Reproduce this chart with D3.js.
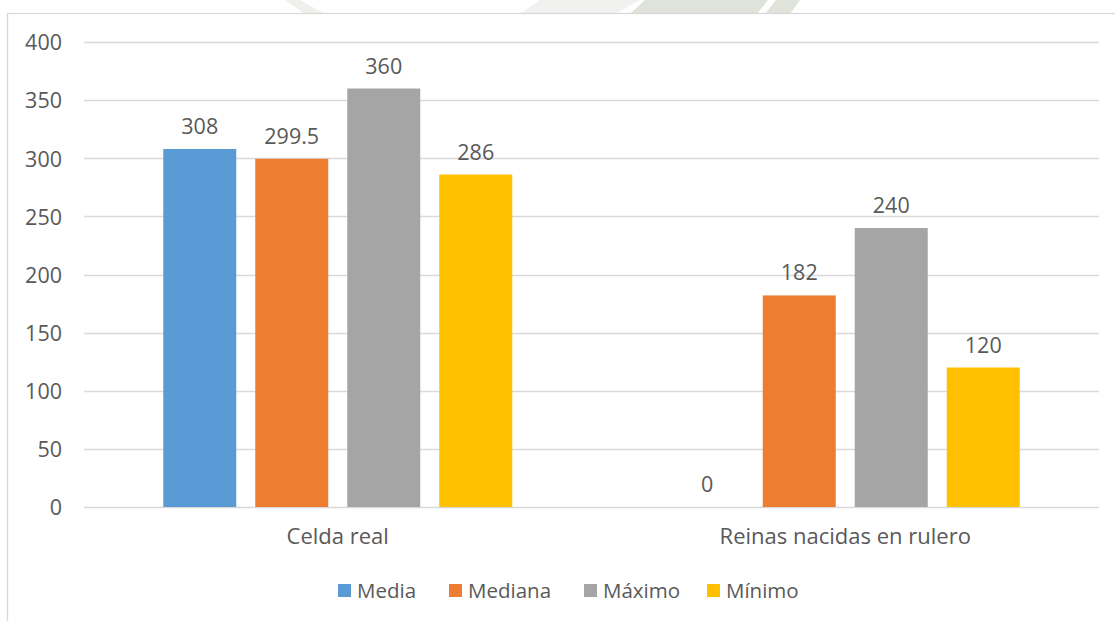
<!DOCTYPE html>
<html>
<head>
<meta charset="utf-8">
<script src="https://cdn.jsdelivr.net/npm/d3@7"></script>
<style>
  html, body { margin: 0; padding: 0; background: #fff; }
  svg { display: block; }
  text { font-family: "Open Sans", "Noto Sans", sans-serif; fill: #595959; }
</style>
</head>
<body>
<svg id="chart" width="1115" height="621"></svg>
<script>
// Chart data
const categories = ["Celda real", "Reinas nacidas en rulero"];
const seriesNames = ["Media", "Mediana", "Máximo", "Mínimo"];
const media   = [308, 0];
const mediana = [299.5, 182];
const maximo  = [360, 240];
const minimo  = [286, 120];
const yTicks  = [0, 50, 100, 150, 200, 250, 300, 350, 400];
const colors  = ["#5B9BD5", "#ED7D31", "#A5A5A5", "#FFC000"];

const seriesValues = [media, mediana, maximo, minimo];

const svg = d3.select("#chart");
const W = 1115, H = 621;

// faint backdrop shape above the chart frame
const bg = svg.append("g");
bg.append("path")
  .attr("d", "M540,0 L640,0 L615,14 L520,14 Z")
  .attr("fill", "#f1f2ef");
bg.append("path")
  .attr("d", "M645,0 L800,0 L790,14 L630,14 Z")
  .attr("fill", "#dfe3da");
bg.append("path")
  .attr("d", "M768,0 L776,0 L765,14 L757,14 Z")
  .attr("fill", "#ffffff");
bg.append("path")
  .attr("d", "M285,0 L300,0 L325,14 L305,14 Z")
  .attr("fill", "#eef0ec");

// chart frame
svg.append("rect")
  .attr("x", 7.5).attr("y", 13.5)
  .attr("width", W + 10).attr("height", H + 10)
  .attr("fill", "#fff").attr("stroke", "#d9d9d9").attr("stroke-width", 1.3);

const plot = { left: 84, right: 1099, top: 42, bottom: 507 };

const x0 = d3.scaleBand().domain(categories).range([plot.left, plot.right]).padding(0);
const y = d3.scaleLinear().domain([0, 400]).range([plot.bottom, plot.top]);

// bar geometry inside each category band
const barW = 73, barGap = 19;
const groupW = seriesNames.length * barW + (seriesNames.length - 1) * barGap;
const x1 = d3.scaleOrdinal().domain(seriesNames)
  .range(seriesNames.map((_, i) => i * (barW + barGap)));

// gridlines
svg.append("g").selectAll("line").data(yTicks).join("line")
  .attr("x1", plot.left).attr("x2", plot.right)
  .attr("y1", d => Math.round(y(d)) + 0.5).attr("y2", d => Math.round(y(d)) + 0.5)
  .attr("stroke", "#d9d9d9").attr("stroke-width", 1.3);

// y axis labels
const yAxis = d3.axisLeft(y).tickValues(yTicks).tickSize(0).tickPadding(0);
const yg = svg.append("g").attr("transform", `translate(62,0)`).call(yAxis);
yg.select(".domain").remove();
yg.selectAll("text").attr("font-size", 21.5).attr("fill", "#595959")
  .attr("font-family", "'Open Sans', sans-serif").attr("dy", "0.36em");

// bars
const groups = svg.append("g").selectAll("g").data(categories).join("g")
  .attr("transform", c => `translate(${x0(c) + (x0.bandwidth() - groupW) / 2},0)`);

groups.each(function (c, ci) {
  const g = d3.select(this);
  seriesNames.forEach((s, si) => {
    const v = seriesValues[si][ci];
    g.append("rect")
      .attr("x", x1(s)).attr("width", barW)
      .attr("y", y(v)).attr("height", y(0) - y(v))
      .attr("fill", colors[si]);
    g.append("text")
      .attr("x", x1(s) + barW / 2)
      .attr("y", y(v) - 15)
      .attr("text-anchor", "middle")
      .attr("font-size", 21.5)
      .text(v);
  });
});

// category labels
const xAxis = d3.axisBottom(x0).tickSize(0).tickPadding(0);
const xg = svg.append("g").attr("transform", `translate(0,${plot.bottom})`).call(xAxis);
xg.select(".domain").remove();
xg.selectAll("text").attr("font-size", 22).attr("fill", "#595959")
  .attr("font-family", "'Open Sans', sans-serif").attr("dy", "0").attr("y", 37);

// legend
const legendX = [338, 449, 584, 707];
const legend = svg.append("g").selectAll("g").data(seriesNames).join("g")
  .attr("transform", (d, i) => `translate(${legendX[i]},584)`);
legend.append("rect").attr("width", 13).attr("height", 13)
  .attr("fill", (d, i) => colors[i]);
legend.append("text").attr("x", 19).attr("y", 14)
  .attr("font-size", 20.5).text(d => d);
</script>
</body>
</html>
